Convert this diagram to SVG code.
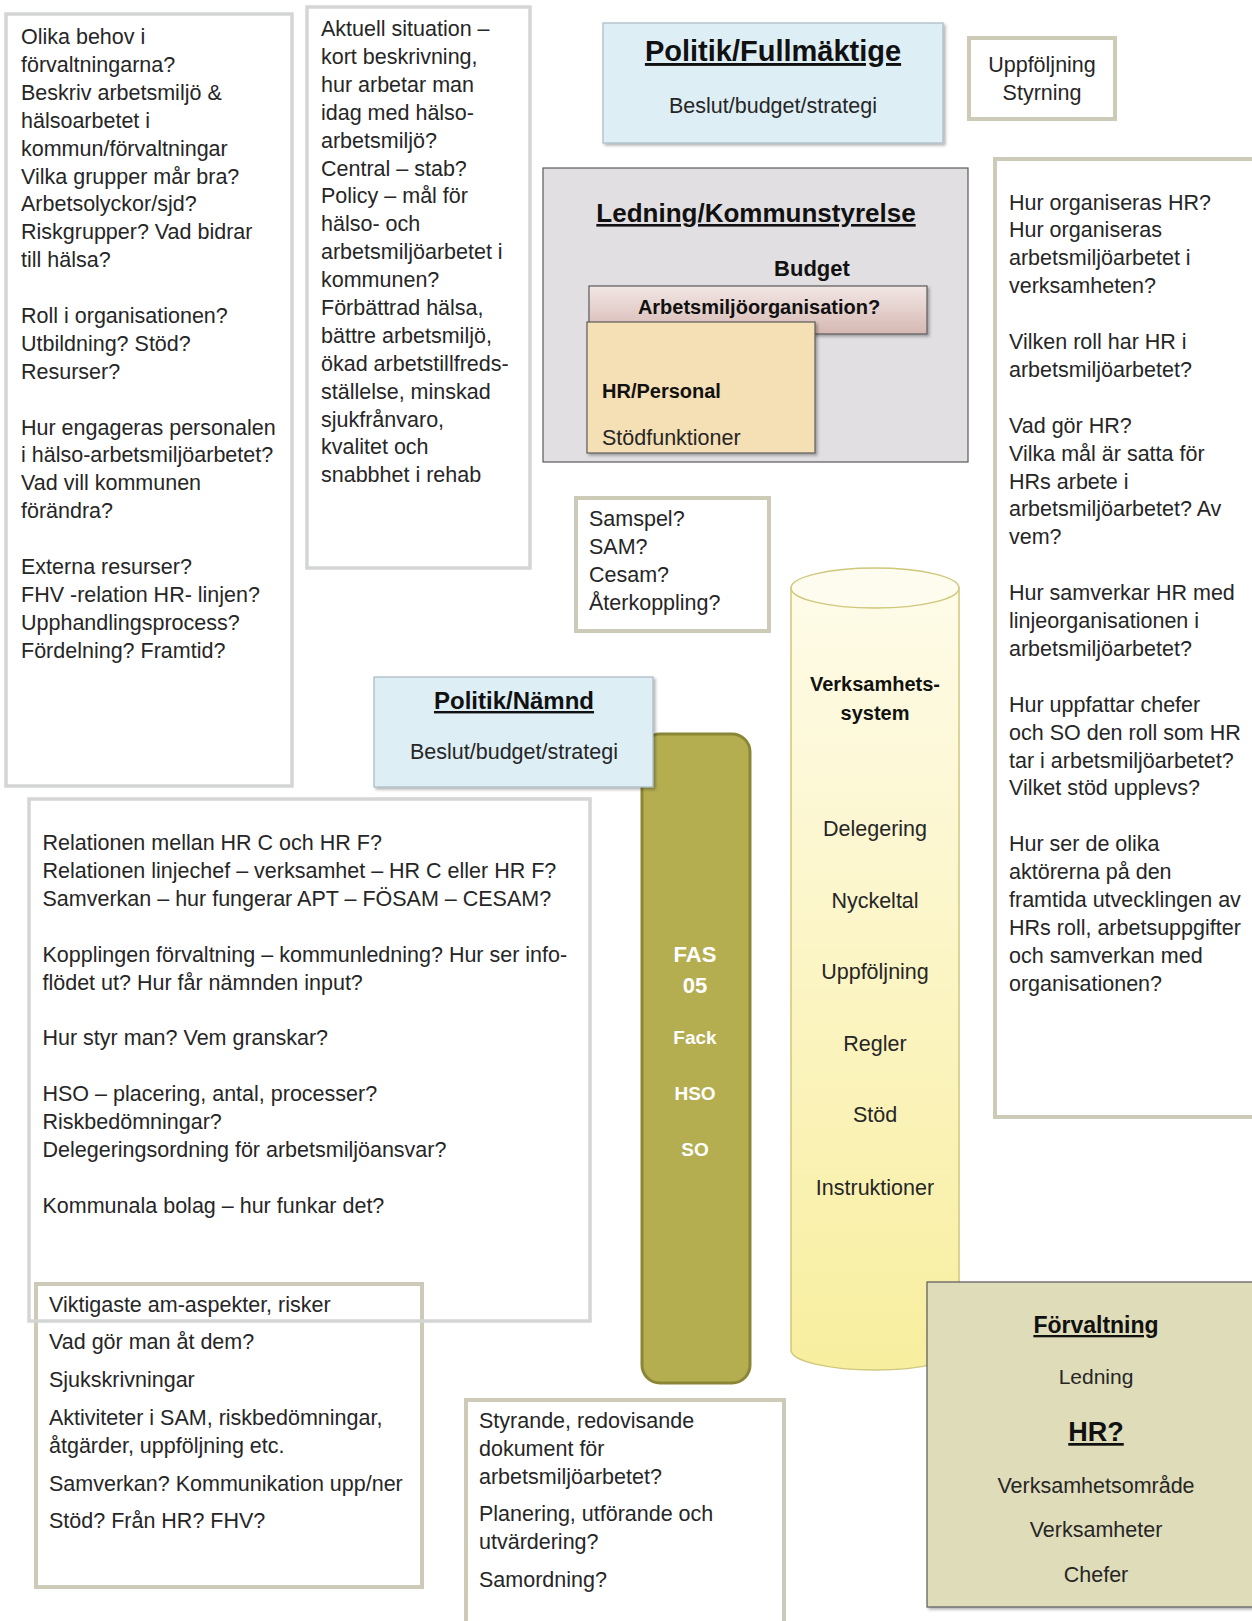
<svg xmlns="http://www.w3.org/2000/svg" width="1252" height="1621" viewBox="0 0 1252 1621">
<style>
text{font-family:"Liberation Sans",Arial,sans-serif;fill:#262626}
.b{font-size:21.5px}
.bold{font-weight:bold;fill:#111}
.u{text-decoration:underline}
.grayBox{fill:#fff;stroke:#d3d6d4;stroke-width:3.5}
.tanBox{fill:#fff;stroke:#cdcab8;stroke-width:4}
.blue{fill:#deeef5;stroke:#a9b9c1;stroke-width:1.2}
.c{text-anchor:middle}
.w{fill:#fff}
</style>
<defs>
<filter id="sh" x="-10%" y="-10%" width="130%" height="130%">
<feDropShadow dx="2" dy="2" stdDeviation="1.5" flood-color="#000" flood-opacity="0.3"/>
</filter>
<linearGradient id="rose" x1="0" y1="0" x2="0" y2="1">
<stop offset="0" stop-color="#f2e7e5"/>
<stop offset="1" stop-color="#d6b8b2"/>
</linearGradient>
<linearGradient id="cyl" x1="0" y1="0" x2="0" y2="1">
<stop offset="0" stop-color="#fefbe8"/>
<stop offset="1" stop-color="#f8ee9f"/>
</linearGradient>
</defs>

<g id="connectors"/>

<g id="box-behov">
<rect class="grayBox" x="6" y="14" width="286" height="772"/>
<text class="b" x="21" y="44">
<tspan x="21">Olika behov i</tspan>
<tspan x="21" dy="27.9">förvaltningarna?</tspan>
<tspan x="21" dy="27.9">Beskriv arbetsmiljö &amp;</tspan>
<tspan x="21" dy="27.9">hälsoarbetet i</tspan>
<tspan x="21" dy="27.9">kommun/förvaltningar</tspan>
<tspan x="21" dy="27.9">Vilka grupper mår bra?</tspan>
<tspan x="21" dy="27.9">Arbetsolyckor/sjd?</tspan>
<tspan x="21" dy="27.9">Riskgrupper? Vad bidrar</tspan>
<tspan x="21" dy="27.9">till hälsa?</tspan>
<tspan x="21" dy="55.8">Roll i organisationen?</tspan>
<tspan x="21" dy="27.9">Utbildning? Stöd?</tspan>
<tspan x="21" dy="27.9">Resurser?</tspan>
<tspan x="21" dy="55.8">Hur engageras personalen</tspan>
<tspan x="21" dy="27.9">i hälso-arbetsmiljöarbetet?</tspan>
<tspan x="21" dy="27.9">Vad vill kommunen</tspan>
<tspan x="21" dy="27.9">förändra?</tspan>
<tspan x="21" dy="55.8">Externa resurser?</tspan>
<tspan x="21" dy="27.9">FHV -relation HR- linjen?</tspan>
<tspan x="21" dy="27.9">Upphandlingsprocess?</tspan>
<tspan x="21" dy="27.9">Fördelning? Framtid?</tspan>
</text>
</g>

<g id="box-aktuell">
<rect class="grayBox" x="307" y="7" width="223" height="561"/>
<text class="b" x="321" y="36">
<tspan x="321">Aktuell situation –</tspan>
<tspan x="321" dy="27.9">kort beskrivning,</tspan>
<tspan x="321" dy="27.9">hur arbetar man</tspan>
<tspan x="321" dy="27.9">idag med hälso-</tspan>
<tspan x="321" dy="27.9">arbetsmiljö?</tspan>
<tspan x="321" dy="27.9">Central – stab?</tspan>
<tspan x="321" dy="27.9">Policy – mål för</tspan>
<tspan x="321" dy="27.9">hälso- och</tspan>
<tspan x="321" dy="27.9">arbetsmiljöarbetet i</tspan>
<tspan x="321" dy="27.9">kommunen?</tspan>
<tspan x="321" dy="27.9">Förbättrad hälsa,</tspan>
<tspan x="321" dy="27.9">bättre arbetsmiljö,</tspan>
<tspan x="321" dy="27.9">ökad arbetstillfreds-</tspan>
<tspan x="321" dy="27.9">ställelse, minskad</tspan>
<tspan x="321" dy="27.9">sjukfrånvaro,</tspan>
<tspan x="321" dy="27.9">kvalitet och</tspan>
<tspan x="321" dy="27.9">snabbhet i rehab</tspan>
</text>
</g>

<g id="politik-fullmaktige">
<rect class="blue" x="603" y="23" width="340" height="120" filter="url(#sh)"/>
<text class="bold u c" x="773" y="61" style="font-size:29px">Politik/Fullmäktige</text>
<text class="b c" x="773" y="113">Beslut/budget/strategi</text>
</g>

<g id="uppfoljning">
<rect class="tanBox" x="969" y="38" width="146" height="81"/>
<text class="b c" x="1042" y="72">Uppföljning</text>
<text class="b c" x="1042" y="100">Styrning</text>
</g>

<g id="ledning">
<rect x="543" y="168" width="425" height="294" fill="#e1dfe1" stroke="#5b5b5b" stroke-width="1.2"/>
<text class="bold u c" x="756" y="222" style="font-size:26px">Ledning/Kommunstyrelse</text>
<text class="bold c" x="812" y="276" style="font-size:22px">Budget</text>
</g>

<g id="arbetsmiljoorganisation">
<rect x="589" y="286" width="338" height="48" fill="url(#rose)" stroke="#5b5b5b" stroke-width="1.2" filter="url(#sh)"/>
<text class="bold c" x="759" y="314" style="font-size:20px">Arbetsmiljöorganisation?</text>
</g>

<g id="hr-personal">
<rect x="587" y="322" width="228" height="131" fill="#f5dfb4" stroke="#5b5b5b" stroke-width="1.2" filter="url(#sh)"/>
<text class="bold" x="602" y="398" style="font-size:20px">HR/Personal</text>
<text class="b" x="602" y="445">Stödfunktioner</text>
</g>

<g id="box-hur-organiseras">
<rect class="tanBox" x="995" y="159" width="280" height="958"/>
<text class="b" x="1009" y="209.5">
<tspan x="1009">Hur organiseras HR?</tspan>
<tspan x="1009" dy="27.9">Hur organiseras</tspan>
<tspan x="1009" dy="27.9">arbetsmiljöarbetet i</tspan>
<tspan x="1009" dy="27.9">verksamheten?</tspan>
<tspan x="1009" dy="55.8">Vilken roll har HR i</tspan>
<tspan x="1009" dy="27.9">arbetsmiljöarbetet?</tspan>
<tspan x="1009" dy="55.8">Vad gör HR?</tspan>
<tspan x="1009" dy="27.9">Vilka mål är satta för</tspan>
<tspan x="1009" dy="27.9">HRs arbete i</tspan>
<tspan x="1009" dy="27.9">arbetsmiljöarbetet? Av</tspan>
<tspan x="1009" dy="27.9">vem?</tspan>
<tspan x="1009" dy="55.8">Hur samverkar HR med</tspan>
<tspan x="1009" dy="27.9">linjeorganisationen i</tspan>
<tspan x="1009" dy="27.9">arbetsmiljöarbetet?</tspan>
<tspan x="1009" dy="55.8">Hur uppfattar chefer</tspan>
<tspan x="1009" dy="27.9">och SO den roll som HR</tspan>
<tspan x="1009" dy="27.9">tar i arbetsmiljöarbetet?</tspan>
<tspan x="1009" dy="27.9">Vilket stöd upplevs?</tspan>
<tspan x="1009" dy="55.8">Hur ser de olika</tspan>
<tspan x="1009" dy="27.9">aktörerna på den</tspan>
<tspan x="1009" dy="27.9">framtida utvecklingen av</tspan>
<tspan x="1009" dy="27.9">HRs roll, arbetsuppgifter</tspan>
<tspan x="1009" dy="27.9">och samverkan med</tspan>
<tspan x="1009" dy="27.9">organisationen?</tspan>
</text>
</g>

<g id="samspel">
<rect class="tanBox" x="576" y="498" width="193" height="133"/>
<text class="b" x="589" y="526">
<tspan x="589">Samspel?</tspan>
<tspan x="589" dy="27.9">SAM?</tspan>
<tspan x="589" dy="27.9">Cesam?</tspan>
<tspan x="589" dy="27.9">Återkoppling?</tspan>
</text>
</g>

<g id="fas">
<rect x="642" y="734" width="108" height="649" rx="18" fill="#b4ae51" stroke="#8b8636" stroke-width="3"/>
<text class="bold c w" x="695" y="962" style="font-size:22px">FAS</text>
<text class="bold c w" x="695" y="993" style="font-size:22px">05</text>
<text class="bold c w" x="695" y="1044" style="font-size:19px">Fack</text>
<text class="bold c w" x="695" y="1100" style="font-size:19px">HSO</text>
<text class="bold c w" x="695" y="1156" style="font-size:19px">SO</text>
</g>

<g id="politik-namnd">
<rect class="blue" x="374" y="677" width="279" height="110" filter="url(#sh)"/>
<text class="bold u c" x="514" y="709" style="font-size:24px">Politik/Nämnd</text>
<text class="b c" x="514" y="759">Beslut/budget/strategi</text>
</g>

<g id="verksamhetssystem">
<path d="M791,588 L791,1350 A84,20 0 0 0 959,1350 L959,588 Z" fill="url(#cyl)" stroke="#cfc77a" stroke-width="1.5"/>
<ellipse cx="875" cy="588" rx="84" ry="20" fill="#fefcee" stroke="#cfc77a" stroke-width="1.5"/>
<text class="bold c" x="875" y="691" style="font-size:20px">Verksamhets-</text>
<text class="bold c" x="875" y="720" style="font-size:20px">system</text>
<text class="b c" x="875" y="836">Delegering</text>
<text class="b c" x="875" y="908">Nyckeltal</text>
<text class="b c" x="875" y="979">Uppföljning</text>
<text class="b c" x="875" y="1051">Regler</text>
<text class="b c" x="875" y="1122">Stöd</text>
<text class="b c" x="875" y="1195">Instruktioner</text>
</g>

<g id="viktigaste">
<rect class="tanBox" x="36" y="1284" width="386" height="303"/>
<text class="b" x="49" y="1312">Viktigaste am-aspekter, risker</text>
<text class="b" x="49" y="1349">Vad gör man åt dem?</text>
<text class="b" x="49" y="1387">Sjukskrivningar</text>
<text class="b" x="49" y="1425">Aktiviteter i SAM, riskbedömningar,</text>
<text class="b" x="49" y="1453">åtgärder, uppföljning etc.</text>
<text class="b" x="49" y="1491">Samverkan? Kommunikation upp/ner</text>
<text class="b" x="49" y="1528">Stöd? Från HR? FHV?</text>
</g>

<g id="relationen">
<rect class="grayBox" x="29" y="799" width="561" height="522" style="fill:none"/>
<text class="b" x="42.5" y="850">
<tspan x="42.5">Relationen mellan HR C och HR F?</tspan>
<tspan x="42.5" dy="27.9">Relationen linjechef – verksamhet – HR C eller HR F?</tspan>
<tspan x="42.5" dy="27.9">Samverkan – hur fungerar APT – FÖSAM – CESAM?</tspan>
<tspan x="42.5" dy="55.8">Kopplingen förvaltning – kommunledning? Hur ser info-</tspan>
<tspan x="42.5" dy="27.9">flödet ut? Hur får nämnden input?</tspan>
<tspan x="42.5" dy="55.8">Hur styr man? Vem granskar?</tspan>
<tspan x="42.5" dy="55.8">HSO – placering, antal, processer?</tspan>
<tspan x="42.5" dy="27.9">Riskbedömningar?</tspan>
<tspan x="42.5" dy="27.9">Delegeringsordning för arbetsmiljöansvar?</tspan>
<tspan x="42.5" dy="55.8">Kommunala bolag – hur funkar det?</tspan>
</text>
</g>

<g id="styrande">
<rect class="tanBox" x="466" y="1400" width="318" height="240"/>
<text class="b" x="479" y="1428">
<tspan x="479">Styrande, redovisande</tspan>
<tspan x="479" dy="27.9">dokument för</tspan>
<tspan x="479" dy="27.9">arbetsmiljöarbetet?</tspan>
</text>
<text class="b" x="479" y="1521">
<tspan x="479">Planering, utförande och</tspan>
<tspan x="479" dy="27.9">utvärdering?</tspan>
</text>
<text class="b" x="479" y="1587">Samordning?</text>
</g>

<g id="forvaltning">
<rect x="927" y="1282" width="340" height="325" fill="#dfdcb9" stroke="#595959" stroke-width="1.2" filter="url(#sh)"/>
<text class="bold u c" x="1096" y="1333" style="font-size:23px">Förvaltning</text>
<text class="b c" x="1096" y="1384" style="font-size:21px">Ledning</text>
<text class="bold u c" x="1096" y="1441" style="font-size:27px">HR?</text>
<text class="b c" x="1096" y="1493">Verksamhetsområde</text>
<text class="b c" x="1096" y="1537">Verksamheter</text>
<text class="b c" x="1096" y="1582">Chefer</text>
</g>
</svg>
